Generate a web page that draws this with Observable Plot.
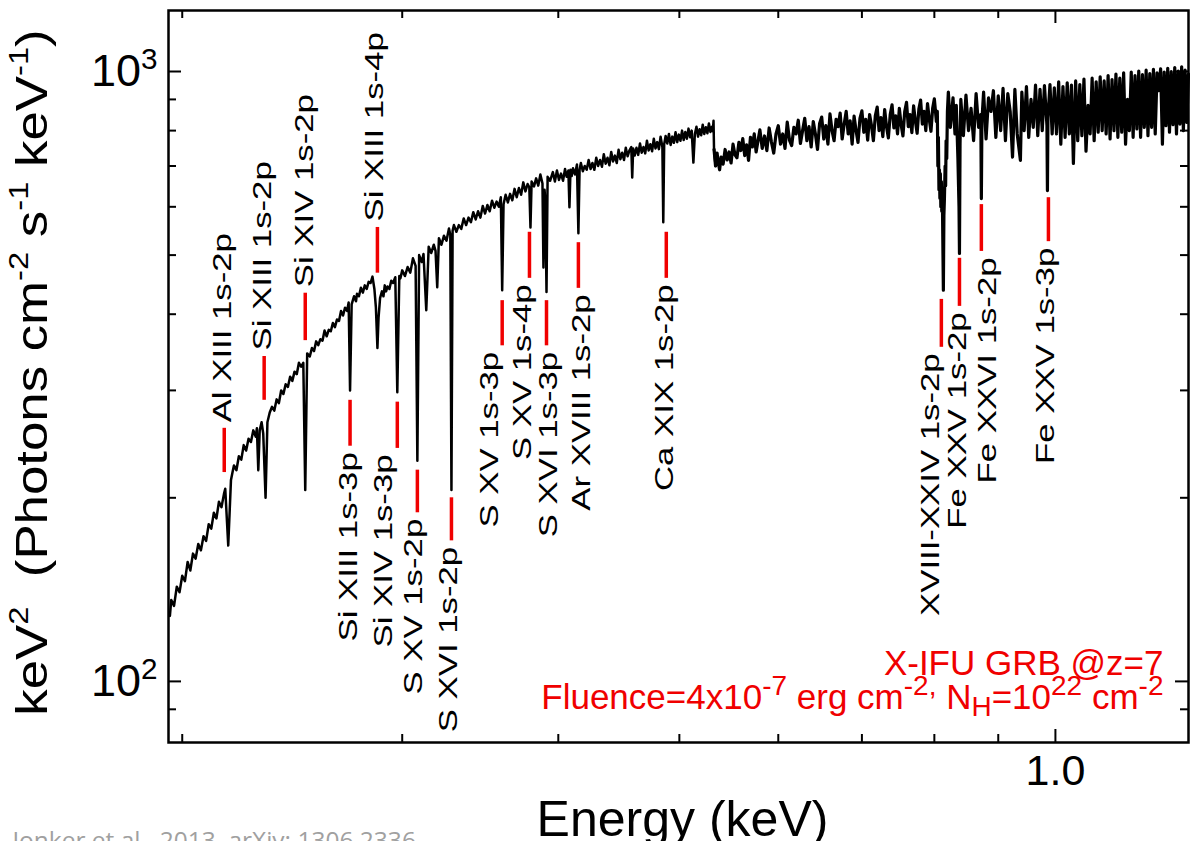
<!DOCTYPE html>
<html>
<head>
<meta charset="utf-8">
<script src="https://cdn.jsdelivr.net/npm/d3@7"></script>
<script src="https://cdn.jsdelivr.net/npm/@observablehq/plot@0.6"></script>
<style>
  html, body { margin: 0; padding: 0; background: #fff; overflow: hidden; }
</style>
</head>
<body>
<div id="chart"></div>
<script>
// Simulated X-IFU spectrum of a GRB afterglow at z = 7: energy (keV) and keV^2 photon flux.
// Soft end: Al and Si absorption lines.
const spectrumLow = [
  [0.1955,128],[0.196,136],[0.197,133],[0.198,143],[0.199,140],[0.200,149],[0.201,146],[0.202,157],
  [0.203,152],[0.204,162],[0.205,159],[0.206,168],[0.207,164],[0.208,173],[0.209,170],[0.210,181],
  [0.211,178],[0.212,189],[0.213,185],[0.214,197],[0.215,193],[0.216,203],[0.2165,207],[0.2177,167],
  [0.2188,214],[0.2195,221],[0.220,226],[0.221,222],[0.222,234],[0.223,231],[0.224,244],[0.225,239],
  [0.226,250],[0.227,247],[0.228,258],[0.2290,252],[0.2295,260],[0.2301,222],[0.2307,258],[0.2315,266],
  [0.2322,255],[0.2332,200],[0.2340,266],[0.2350,276],[0.236,282],[0.237,278],[0.238,290],[0.239,286],
  [0.240,300],[0.241,296],[0.242,307],[0.243,304],[0.244,316],[0.245,311],[0.246,322],[0.247,319],
  [0.248,333],[0.249,328],[0.2500,333],[0.2509,206],[0.2518,345],[0.253,341],[0.254,352],[0.255,348],
  [0.256,361],[0.257,356],[0.258,364],[0.259,362],[0.260,376],[0.261,368],[0.262,377],[0.263,375],
  [0.264,387],[0.265,381],[0.266,392],[0.267,390],[0.268,405],[0.269,398],[0.270,410],[0.271,405],
  [0.2718,418],[0.2725,300],[0.2733,415],[0.2745,428],[0.2755,420],[0.276,432],[0.277,428],[0.278,442],
  [0.279,434],[0.280,446],[0.281,440],[0.282,452],[0.283,450],[0.2840,461],[0.2850,440],[0.2858,410],
  [0.2866,352],[0.2872,395],[0.2880,425],[0.2890,436],[0.2898,428],[0.2905,446],[0.2912,436],[0.292,444],
  [0.293,440],[0.294,454],[0.295,450],[0.2962,460],[0.2973,298],[0.2984,462],[0.299,458],[0.300,472]
];
// S, Ar and Ca lines up to the instrumental edge.
const spectrumMid = [
  [0.3015,462],[0.303,478],[0.3045,468],[0.306,494],[0.3075,480],[0.3085,230],[0.3095,500],[0.311,487],
  [0.312,502],[0.3136,406],[0.315,516],[0.3165,504],[0.318,520],[0.319,508],[0.3200,443],[0.321,533],
  [0.3225,520],[0.324,538],[0.3255,528],[0.327,553],[0.3278,540],[0.3285,206],[0.3292,548],[0.330,560],
  [0.3315,546],[0.333,560],[0.3345,552],[0.336,574],[0.3375,560],[0.339,576],[0.3405,566],[0.342,588],
  [0.3435,572],[0.345,590],[0.3465,576],[0.348,602],[0.3495,585],[0.351,604],[0.3525,590],[0.354,614],
  [0.3555,598],[0.357,612],[0.3585,600],[0.3598,622],[0.3607,438],[0.3616,606],[0.363,628],[0.3645,610],
  [0.366,630],[0.3675,615],[0.369,642],[0.3705,622],[0.372,644],[0.3735,628],[0.375,658],[0.3765,636],
  [0.378,654],[0.3792,646],[0.3800,555],[0.3808,660],[0.3825,648],[0.384,668],[0.3855,650],[0.387,678],
  [0.3885,655],[0.3892,477],[0.3900,640],[0.3906,610],[0.3914,435],[0.3922,672],[0.394,662],[0.396,684],
  [0.3975,660],[0.399,688],[0.4005,664],[0.402,680],[0.4035,662],[0.405,692],[0.4062,672],[0.4075,688],
  [0.4083,599],[0.4091,690],[0.410,674],[0.411,694],[0.4125,678],[0.414,704],[0.4151,543],[0.4160,690],
  [0.417,708],[0.4185,686],[0.420,700],[0.4215,690],[0.423,716],[0.4245,692],[0.426,708],[0.4275,690],
  [0.429,722],[0.4305,700],[0.432,716],[0.4335,698],[0.435,732],[0.4365,706],[0.438,722],[0.4395,702],
  [0.441,738],[0.4425,712],[0.444,728],[0.4455,708],[0.447,744],[0.4485,718],[0.450,736],[0.4515,716],
  [0.453,750],[0.4545,726],[0.456,742],[0.4576,752],[0.4584,670],[0.4592,748],[0.4605,728],[0.462,750],
  [0.4635,730],[0.465,762],[0.4665,736],[0.468,752],[0.4695,734],[0.471,770],[0.4725,742],[0.474,760],
  [0.4755,740],[0.477,776],[0.4785,748],[0.480,766],[0.4815,746],[0.483,782],[0.4846,752],[0.4854,566],
  [0.4862,760],[0.4875,784],[0.489,762],[0.4905,790],[0.492,758],[0.4935,782],[0.495,764],[0.4965,795],
  [0.498,766],[0.4995,788],[0.501,770],[0.5025,800],[0.504,772],[0.5055,796],[0.507,776],[0.5085,806],
  [0.510,780],[0.5115,800],[0.5131,709],[0.5145,790],[0.516,812],[0.5175,782],[0.519,804],[0.5205,786],
  [0.522,818],[0.5235,790],[0.525,810],[0.5265,792],[0.528,822],[0.5295,796],[0.5310,812],[0.5318,798],
  [0.5325,830],[0.5330,745]
];
// Featureless stretch after the edge, then the Fe L-shell complex.
const spectrumHigh = [
  [0.5345,700],[0.536,735],[0.537,712],[0.5385,690],[0.540,724],[0.542,705],[0.544,745],[0.546,716],
  [0.548,738],[0.550,708],[0.552,760],[0.554,730],[0.556,722],[0.558,765],[0.560,742],[0.562,776],
  [0.564,728],[0.566,758],[0.568,715],[0.570,780],[0.572,752],[0.574,790],[0.576,738],[0.578,770],
  [0.580,802],[0.5825,748],[0.585,784],[0.5875,742],[0.590,808],[0.5925,766],[0.595,735],[0.5975,790],
  [0.600,815],[0.6025,760],[0.605,790],[0.6075,748],[0.610,826],[0.6125,772],[0.615,756],[0.6175,810],
  [0.620,790],[0.6225,832],[0.625,762],[0.6275,800],[0.630,838],[0.6325,770],[0.635,812],[0.6375,752],
  [0.640,828],[0.6425,790],[0.645,745],[0.6475,822],[0.650,842],[0.6525,775],[0.655,815],[0.6575,760],
  [0.660,852],[0.6625,800],[0.665,770],[0.6675,835],[0.670,812],[0.6725,855],[0.675,775],[0.6775,820],
  [0.680,860],[0.6825,790],[0.685,830],[0.6875,760],[0.690,845],[0.6925,800],[0.695,765],[0.6975,838],
  [0.700,862],[0.7025,795],[0.705,835],[0.7075,772],[0.710,850],[0.7125,815],[0.715,770],[0.7175,846],
  [0.720,874],[0.7225,800],[0.725,840],[0.7275,782],[0.730,866],[0.7325,812],[0.735,778],[0.7375,850],
  [0.740,882],[0.7425,808],[0.745,846],[0.7475,790],[0.750,870],[0.7525,818],[0.755,784],[0.7575,860],
  [0.760,890],[0.7625,812],[0.765,850],[0.7675,794],[0.770,878],[0.7725,830],[0.775,792],[0.7775,868],
  [0.780,898],[0.7825,820],[0.785,860],[0.7875,800],[0.790,886],[0.7925,836],[0.795,798],[0.7975,870],
  [0.8000,902],[0.8030,828],[0.8044,860],[0.8052,700],[0.8060,780],[0.8068,640],[0.8075,690],[0.8082,620],
  [0.8089,680],[0.8096,600],[0.8104,660],[0.8110,590],[0.8118,640],[0.8125,540],[0.8134,438],[0.8142,580],
  [0.8150,620],[0.8160,700],[0.8168,650],[0.8175,770],[0.8185,720],[0.8195,860],[0.8209,925]
];
// Hard end of the band, Fe XXV / Fe XXVI lines.
const spectrumTop = [
  [0.8240,810],[0.8280,905],[0.8310,790],[0.8330,880],[0.8355,720],[0.8372,600],[0.8379,503],[0.8388,760],
  [0.8400,900],[0.8440,785],[0.8480,915],[0.8520,800],[0.8560,870],[0.8600,770],[0.8640,920],[0.8680,810],
  [0.8715,850],[0.8724,619],[0.8733,830],[0.8760,925],[0.8800,775],[0.8840,905],[0.8880,860],[0.8920,930],
  [0.8960,780],[0.9000,912],[0.9040,800],[0.9080,938],[0.9120,770],[0.9160,920],[0.9200,860],[0.9240,724],
  [0.9280,935],[0.9320,790],[0.9375,715],[0.9400,925],[0.9440,800],[0.9480,945],[0.9520,780],[0.9560,900],
  [0.9600,810],[0.9640,950],[0.9680,785],[0.9720,935],[0.9760,800],[0.9800,948],[0.9845,815],[0.9854,638],
  [0.9863,840],[0.9900,952],[0.9940,790],[0.9980,940],[1.0020,790],[1.0060,962],[1.0100,760],[1.0140,945],
  [1.0180,780],[1.0220,958],[1.0260,790],[1.0300,950],[1.0337,707],[1.0380,965],[1.0420,770],[1.0460,952],
  [1.0500,785],[1.0540,972],[1.0580,740],[1.0620,880],[1.0660,790],[1.0700,975],[1.0740,770],[1.0780,962],
  [1.0820,795],[1.0860,980],[1.0900,800],[1.0940,965],[1.0980,790],[1.1020,985],[1.1060,775],[1.1100,970],
  [1.1140,800],[1.1180,990],[1.1220,780],[1.1260,975],[1.1300,795],[1.1340,995],[1.1380,760],[1.1420,900],
  [1.1460,800],[1.1500,998],[1.1540,780],[1.1580,985],[1.1620,805],[1.1660,1002],[1.1700,780],[1.1740,988],
  [1.1780,810],[1.1820,1005],[1.1860,785],[1.1900,992],[1.1940,810],[1.1980,1008],[1.2020,790],[1.2060,995],
  [1.2100,930],[1.2140,1010],[1.2180,760],[1.2220,998],[1.2260,815],[1.2300,1012],[1.2340,795],[1.2380,1000],
  [1.2420,818],[1.2460,1015],[1.2500,790],[1.2540,1002],[1.2580,820],[1.2620,1018],[1.2660,800],[1.2700,1005],
  [1.2740,825],[1.2780,990]
];

// Identified absorption lines (observed-frame energy) and their marker/label placement.
const lineNames   = ["Al XIII 1s-2p", "Si XIII 1s-2p", "Si XIV 1s-2p", "Si XIII 1s-4p", "Si XIII 1s-3p",
                     "Si XIV 1s-3p", "S XV 1s-2p", "S XVI 1s-2p", "S XV 1s-3p", "S XV 1s-4p", "S XVI 1s-3p",
                     "Ar XVIII 1s-2p", "Ca XIX 1s-2p", "XVIII-XXIV 1s-2p", "Fe XXV 1s-2p", "Fe XXVI 1s-2p",
                     "Fe XXV 1s-3p"];
const lineEnergy  = [0.2161, 0.2326, 0.2509, 0.2866, 0.2725, 0.2973, 0.3085, 0.3285, 0.3607, 0.3793, 0.3914,
                     0.4151, 0.4881, 0.8104, 0.8379, 0.8724, 0.9872];
const markerHigh  = [260, 341, 433, 555, 289, 287, 222, 200, 421, 545, 421, 524, 545, 423, 494, 605, 621];
const markerLow   = [220, 289, 362, 467, 243, 241, 189, 170, 355, 458, 355, 441, 458, 353, 412, 507, 526];
const labelEnergy = [0.2157, 0.2322, 0.2509, 0.2855, 0.2721, 0.2902, 0.3068, 0.3271, 0.3528, 0.3750, 0.3935,
                     0.4182, 0.4871, 0.7957, 0.8363, 0.8838, 0.9835];
const labelSide   = ["above", "above", "above", "above", "below", "below", "below", "below", "below", "below",
                     "below", "below", "below", "below", "below", "below", "below"];

// Axes
const xDomain = [0.195, 1.278];
const yDomain = [79.4, 1259];
const xMinorTicks = [0.2, 0.3, 0.4, 0.5, 0.6, 0.7, 0.8, 0.9];
const xMajorTicks = [1.0];
const xTickText = ["1.0"];
const yMinorTicks = [90, 200, 300, 400, 500, 600, 700, 800, 900];
const yMajorTicks = [100, 1000];
const yTickText = [[["10"], ["2", "sup"]], [["10"], ["3", "sup"]]];

// Texts
const xTitle = "Energy (keV)";
const yTitle = [["keV"], ["2", "sup"], ["  (Photons cm"], ["-2", "sup"], [" s"], ["-1", "sup"], [" keV"], ["-1", "sup"], [")"]];
const noteLine1 = "X-IFU GRB @z=7";
const noteLine2 = [["Fluence=4x10"], ["-7", "sup"], [" erg cm"], ["-2,", "sup"], [" N"], ["H", "sub"],
                   ["=10"], ["22", "sup"], [" cm"], ["-2", "sup"]];
const source = "Jonker et al., 2013, arXiv: 1306.2336";

// ---- build tables ----
const toRows = (pairs) => pairs.map(([energy, flux]) => ({energy, flux}));
// below the edge the noise is small; above it the trace is drawn heavier, as a dense band
const softTrace = toRows([...spectrumLow, ...spectrumMid, spectrumHigh[0]]);
const hardTrace = toRows([spectrumMid[spectrumMid.length - 1], ...spectrumHigh, ...spectrumTop]);
const lines = lineNames.map((name, i) => ({
  name, energy: lineEnergy[i], hi: markerHigh[i], lo: markerLow[i], at: labelEnergy[i], side: labelSide[i]
}));
const plain = (parts) => parts.map((p) => p[0]).join("");

const W = 1190, H = 841;
const M = {top: 10, right: 2, bottom: 99, left: 168};
const plotW = W - M.left - M.right, plotH = H - M.top - M.bottom;
const red = "#f00000";

const chart = Plot.plot({
  width: W, height: H,
  marginTop: M.top, marginRight: M.right, marginBottom: M.bottom, marginLeft: M.left,
  style: {fontFamily: "'Liberation Sans', Arial, sans-serif", background: "#fff", color: "#000", overflow: "visible"},
  x: {type: "log", domain: xDomain, axis: null},
  y: {type: "log", domain: yDomain, axis: null},
  marks: [
    // spectrum
    Plot.line(softTrace, {x: "energy", y: "flux", stroke: "#000", strokeWidth: 2.5}),
    Plot.line(hardTrace, {x: "energy", y: "flux", stroke: "#000", strokeWidth: 3.2}),
    // red line markers and their labels
    Plot.ruleX(lines, {x: "energy", y1: "lo", y2: "hi", stroke: red, strokeWidth: 3.5}),
    Plot.text(lines.filter((d) => d.side === "above"), {
      x: "at", y: "hi", text: "name", rotate: -90, textAnchor: "start", lineAnchor: "middle",
      dy: -6, fontSize: 25, fill: "#000"
    }),
    Plot.text(lines.filter((d) => d.side === "below"), {
      x: "at", y: "lo", text: "name", rotate: -90, textAnchor: "end", lineAnchor: "middle",
      dy: 6, fontSize: 25, fill: "#000"
    }),
    // inward ticks on all four sides
    Plot.tickX(xMinorTicks, {x: (d) => d, insetTop: plotH - 8, strokeWidth: 2}),
    Plot.tickX(xMinorTicks, {x: (d) => d, insetBottom: plotH - 8, strokeWidth: 2}),
    Plot.tickX(xMajorTicks, {x: (d) => d, insetTop: plotH - 13, strokeWidth: 2}),
    Plot.tickX(xMajorTicks, {x: (d) => d, insetBottom: plotH - 13, strokeWidth: 2}),
    Plot.tickY(yMinorTicks, {y: (d) => d, insetRight: plotW - 8, strokeWidth: 2}),
    Plot.tickY(yMinorTicks, {y: (d) => d, insetLeft: plotW - 8, strokeWidth: 2}),
    Plot.tickY(yMajorTicks, {y: (d) => d, insetRight: plotW - 13, strokeWidth: 2}),
    Plot.tickY(yMajorTicks, {y: (d) => d, insetLeft: plotW - 13, strokeWidth: 2}),
    Plot.frame({stroke: "#000", strokeWidth: 2.5}),
    // tick labels
    Plot.text(xMajorTicks, {x: (d) => d, text: (d, i) => xTickText[i], frameAnchor: "bottom",
      textAnchor: "middle", lineAnchor: "middle", dy: 29, fontSize: 43, fill: "#000"}),
    Plot.text(yMajorTicks, {y: (d) => d, text: (d, i) => plain(yTickText[i]), frameAnchor: "left",
      textAnchor: "end", lineAnchor: "middle", dx: -11, fontSize: 45, fill: "#000"}),
    // axis titles
    Plot.text([xTitle], {text: (d) => d, frameAnchor: "bottom", textAnchor: "middle", lineAnchor: "middle",
      dx: 4, dy: 77, fontSize: 50, fill: "#000"}),
    Plot.text([plain(yTitle)], {text: (d) => d, frameAnchor: "left", textAnchor: "middle", rotate: -90,
      lineAnchor: "middle", dx: -136, dy: -4, fontSize: 44, fill: "#000"}),
    // annotation
    Plot.text([noteLine1], {text: (d) => d, frameAnchor: "bottom-right", textAnchor: "end",
      lineAnchor: "middle", dx: -25, dy: -79, fontSize: 35, fill: red}),
    Plot.text([plain(noteLine2)], {text: (d) => d, frameAnchor: "bottom-right", textAnchor: "end",
      lineAnchor: "middle", dx: -25, dy: -45, fontSize: 35, fill: red}),
    // source
    Plot.text([source], {text: (d) => d, frameAnchor: "bottom-left", textAnchor: "start", lineAnchor: "middle",
      dx: -156, dy: 99, fontSize: 24.5, fill: "#a0a0a0", fontFamily: "'Open Sans', sans-serif"})
  ]
});

// Rebuild a text element with raised / lowered runs.
function richText(node, parts, size, supScale, raise, drop) {
  const t = d3.select(node);
  t.text(null);
  let cur = 0;
  for (const [s, kind] of parts) {
    const span = t.append("tspan").text(s);
    let target = 0;
    if (kind === "sup") { span.attr("font-size", size * supScale); target = -size * raise; }
    if (kind === "sub") { span.attr("font-size", size * supScale); target = size * drop; }
    span.attr("dy", target - cur);
    cur = target;
  }
  t.style("white-space", "pre");
}

const svg = d3.select(chart);
const textsReading = (str) => svg.selectAll("text").filter(function () { return this.textContent === str; });

yTickText.forEach((parts) => textsReading(plain(parts)).each(function () {
  richText(this, parts, 45, 0.66, 0.38, 0);
}));
textsReading(plain(yTitle)).each(function () {
  richText(this, yTitle, 44, 0.62, 0.42, 0);
  this.setAttribute("transform", this.getAttribute("transform") + " scale(1.2,1)");
});
textsReading(plain(noteLine2)).each(function () {
  richText(this, noteLine2, 35, 0.8, 0.4, 0.22);
});
// the line labels are drawn elongated along their reading direction
lineNames.forEach((name) => textsReading(name).each(function () {
  this.setAttribute("transform", this.getAttribute("transform") + " scale(1.39,1)");
}));

document.getElementById("chart").appendChild(chart);
</script>
</body>
</html>
